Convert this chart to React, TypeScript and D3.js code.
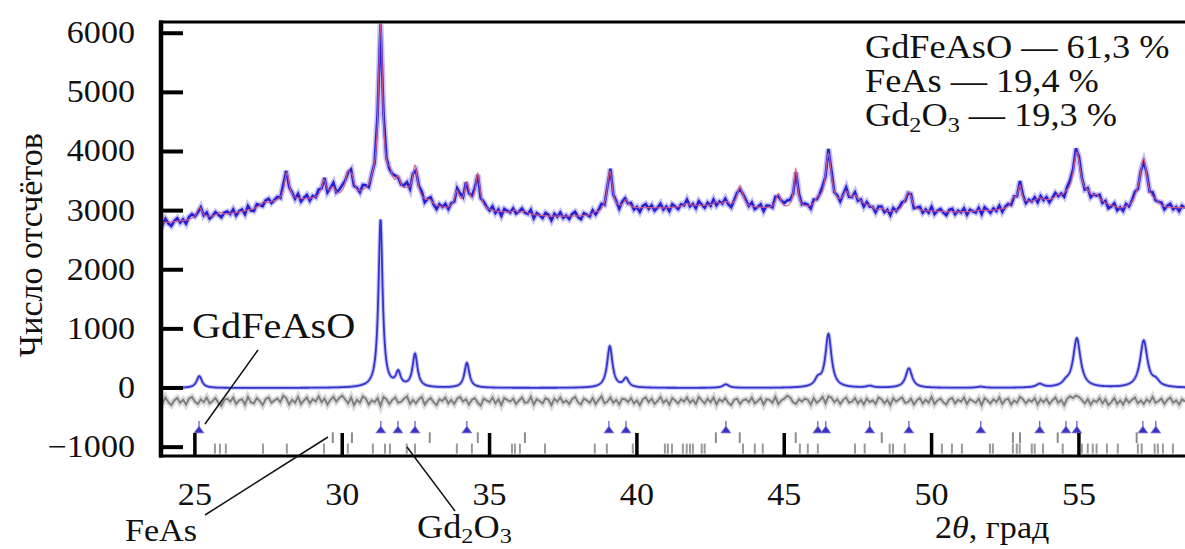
import React from 'react';
import * as d3 from 'd3';

const W = 1185;
const H = 549;

// Visible ranges
const twoThetaDomain = [23.85, 58.6];
const countDomain = [-1150, 6190];
const yTickValues = [-1000, 0, 1000, 2000, 3000, 4000, 5000, 6000];
const xTickValues = [25, 30, 35, 40, 45, 50, 55];

// Background knots (2θ, counts)
const bgTheta = [23.85, 25, 26, 27, 27.6, 28.5, 29.5, 30.5, 31.3, 31.8, 32.3, 33, 33.5, 34.5, 35.5, 37, 38.5, 39.5, 40.3, 41, 42, 43, 44, 45, 46, 47, 47.6, 48.2, 49, 50, 51, 52, 52.6, 53.3, 54.2, 55.3, 55.8, 56.4, 57, 57.8, 58.6];
const bgCounts = [2790, 2840, 2920, 3020, 3130, 3170, 3190, 3220, 3340, 3260, 3200, 3080, 3010, 3000, 2960, 2900, 2900, 3000, 3040, 3040, 3080, 3070, 3040, 3000, 3010, 3060, 3100, 2960, 2960, 2980, 2970, 2990, 3020, 3120, 3150, 3130, 3100, 3000, 3020, 3010, 3040];

// GdFeAsO reflections: position (2θ), intensity, FWHM
const gdfeasoPos = [25.15, 31.3, 31.9, 32.47, 34.23, 39.08, 39.63, 43.02, 46.14, 46.5, 47.9, 49.23, 51.67, 53.67, 54.56, 54.93, 57.2, 57.61];
const gdfeasoInt = [200, 2840, 230, 560, 420, 700, 150, 60, 120, 900, 30, 330, 20, 60, 60, 830, 790, 90];
const gdfeasoFwhm = [0.22, 0.17, 0.2, 0.2, 0.2, 0.22, 0.22, 0.25, 0.25, 0.25, 0.25, 0.26, 0.28, 0.28, 0.28, 0.3, 0.3, 0.3];

// FeAs contribution to the calculated profile
const feasPos = [29.68, 30.33, 32.97, 34.6, 36.2, 42.68, 43.49, 45.39, 48.31, 52.76, 53.0, 54.28, 56.96];
const feasInt = [150, 250, 60, 600, 50, 60, 320, 680, 60, 120, 300, 60, 80];
const feasFwhm = [0.2, 0.2, 0.2, 0.18, 0.2, 0.2, 0.2, 0.15, 0.2, 0.18, 0.15, 0.2, 0.2];

// Gd2O3 contribution to the calculated profile
const gd2o3Pos = [25.85, 27.31, 28.12, 29.38, 30.19, 31.04, 31.62, 32.19, 33.89, 35.86, 38.57, 41.69, 43.6, 44.8, 47.1, 47.4, 49.09, 52.89, 55.3, 55.6, 57.13];
const gd2o3Int = [60, 60, 480, 300, 350, 80, 220, 60, 280, 50, 40, 50, 60, 260, 200, 120, 60, 60, 80, 100, 60];
const gd2o3Fwhm = [0.2, 0.2, 0.2, 0.2, 0.2, 0.2, 0.2, 0.2, 0.2, 0.2, 0.2, 0.2, 0.2, 0.2, 0.25, 0.25, 0.2, 0.2, 0.25, 0.25, 0.2];

// Reflection markers
const gdfeasoTicks = [25.14, 31.31, 31.89, 32.47, 34.23, 39.05, 39.63, 43.02, 46.14, 46.41, 47.9, 49.23, 51.67, 53.67, 54.56, 54.93, 57.17, 57.61];
const feasTicks = [29.68, 30.33, 32.97, 34.6, 36.2, 42.68, 43.49, 45.39, 48.31, 52.76, 53.0, 54.28, 56.96];
const gd2o3Ticks = [25.68, 25.85, 26.05, 27.31, 28.12, 29.38, 30.19, 31.04, 31.45, 31.62, 32.19, 32.47, 33.89, 34.4, 35.76, 35.86, 36.03, 36.88, 38.57, 38.98, 39.86, 40.95, 41.05, 41.19, 41.56, 41.69, 41.8, 41.9, 42.2, 42.3, 43.6, 44.0, 44.27, 45.53, 45.8, 46.14, 47.4, 47.73, 48.58, 48.69, 49.09, 50.35, 50.69, 51.03, 51.98, 52.08, 52.76, 52.89, 52.99, 53.4, 53.5, 53.78, 54.45, 55.1, 55.3, 55.47, 55.6, 55.95, 56.32, 57.0, 57.13, 57.57, 57.68, 57.85, 58.19];

// Observed minus calculated, 0.1° steps from 23.8°, in units of 10 counts
const residualStart = 23.8;
const residualStep = 0.1;
const residual = [
  3, -4, 6, -2, -7, 1, 5, -3, 2, -6, 4, 7, -1, -5, 3, -2, 6, -4, 0, 5,
  -3, -8, 2, 4, -1, 6, -5, 1, 3, -6, 7, -2, -4, 5, 0, -7, 3, 6, -3, 1,
  4, -2, 9, 5, -6, 2, -3, 7, -5, 1, 6, -4, 3, -1, 8, -2, 4, -6, 2, 7,
  -1, 5, 9, 3, -4, 6, -7, 2, -3, 8, 4, -6, 1, -2, 5, -8, 7, 3, -5, 2,
  6, -3, -1, 4, 8, -5, 2, -4, 3, 7, -6, 1, 5, -2, -7, 3, 0, 6, -4, 2,
  -5, 4, 7, -1, 3, -6, 2, 5, -3, -8, 4, 1, -2, 6, -4, 3, -7, 5, 2, -1,
  4, -5, 1, 6, -3, -2, 7, -6, 3, 0, -4, 5, 2, -7, 4, -1, 6, -3, 1, -5,
  3, 7, -2, -6, 4, 1, -3, 5, -5, 2, 8, -4, -1, 6, -3, 2, -6, 4, 3, -2,
  5, -4, 1, -7, 3, 6, -2, 4, -5, 0, 7, -3, 2, -6, 5, 1, -4, 3, -1, 6,
  -3, 2, -5, 7, 1, -4, 4, -2, 6, -6, 3, -1, 5, -3, -7, 2, 4, -5, 1, 3,
  -2, 6, -4, 0, 5, -6, 3, 2, -3, 7, -5, 1, 4, 9, 6, -2, -5, 3, -1, 4,
  2, -6, 5, -3, 1, 7, -4, 8, 6, -2, 3, -5, 2, 6, -3, -1, 5, -4, 2, -6,
  4, -2, 1, -5, 6, 3, -4, 2, -7, 5, -1, 3, 6, -3, -2, 4, -6, 1, 5, -4,
  2, -3, 7, -5, 1, 4, -2, -6, 3, 5, -4, 2, -1, 6, -5, 3, 0, -3, 4, -7,
  5, 1, -4, 3, -2, 6, -5, 2, 4, -6, 1, -3, 7, 3, -4, 2, -1, 5, -6, 3,
  -2, 4, -5, 1, 6, -3, 2, -7, 4, 8, 5, 9, 7, 2, -4, 3, -6, 1, -2, 5,
  -4, 3, -7, -2, 5, -5, 1, -6, 4, -3, 2, 6, -4, 1, -5, 3, -2, 7, -3, 0,
  4, -5, 2, 6, -3, 1, -6, 3, -1,
];
const diffOffset = -220;

const legendLines = ['GdFeAsO — 61,3 %', 'FeAs — 19,4 %'];

const SERIF = '"Liberation Serif", "DejaVu Serif", serif';

type Peak = { p: number; h: number; w: number };

function peaksOf(pos: number[], int: number[], fwhm: number[]): Peak[] {
  return pos.map((p, i) => ({ p, h: int[i], w: fwhm[i] }));
}

function profile(peaks: Peak[], t: number): number {
  let s = 0;
  for (const k of peaks) {
    const u = (t - k.p) / (k.w / 2);
    s += k.h / (1 + u * u);
  }
  return s;
}

function SText(props: {
  x: number;
  y: number;
  size: number;
  sx?: number;
  anchor?: 'start' | 'middle' | 'end';
  children: React.ReactNode;
  fill?: string;
}) {
  const { x, y, size, sx = 1.1, anchor = 'start', children, fill = '#111' } = props;
  return (
    <g transform={`translate(${x},${y}) scale(${sx},1)`}>
      <text fontFamily={SERIF} fontSize={size} textAnchor={anchor} fill={fill}>
        {children}
      </text>
    </g>
  );
}

export default function App() {
  const plotLeft = 161;
  const plotRight = 1185;
  const plotTop = 22;
  const plotBottom = 456;

  const x = d3.scaleLinear().domain(twoThetaDomain).range([plotLeft, plotRight]);
  const y = d3.scaleLinear().domain(countDomain).range([plotBottom, plotTop]);

  const bg = d3.scaleLinear().domain(bgTheta).range(bgCounts).clamp(true);
  const gdfeaso = peaksOf(gdfeasoPos, gdfeasoInt, gdfeasoFwhm);
  const feas = peaksOf(feasPos, feasInt, feasFwhm);
  const gd2o3 = peaksOf(gd2o3Pos, gd2o3Int, gd2o3Fwhm);

  const calcAt = (t: number) => bg(t) + profile(gdfeaso, t) + profile(feas, t) + profile(gd2o3, t);

  const fine = d3.range(23.8, 58.65, 0.01);
  const calcPts: [number, number][] = fine.map((t) => [t, calcAt(t)]);
  const phasePts: [number, number][] = fine.map((t) => [t, profile(gdfeaso, t)]);

  const obsPts: [number, number][] = residual.map((r, i) => {
    const t = residualStart + i * residualStep;
    return [t, calcAt(t) + r * 10];
  });
  const diffPts: [number, number][] = residual.map((r, i) => {
    const t = residualStart + i * residualStep;
    return [t, r * 10 + diffOffset];
  });

  const line = d3
    .line<[number, number]>()
    .x((d) => x(d[0]))
    .y((d) => y(d[1]));

  const triBase = y(-760);
  const feasTop = y(-750);
  const feasBot = y(-930);
  const gdoTop = y(-940);
  const gdoBot = y(-1110);

  return (
    <svg
      width={W}
      height={H}
      viewBox={`0 0 ${W} ${H}`}
      style={{ position: 'absolute', left: 0, top: 0, background: '#fff' }}
    >
      <defs>
        <clipPath id="plot-clip">
          <rect x={plotLeft} y={plotTop} width={plotRight - plotLeft} height={plotBottom - plotTop} />
        </clipPath>
      </defs>

      <g clipPath="url(#plot-clip)">
        {/* difference curve */}
        <path d={line(diffPts) || ''} fill="none" stroke="#bdbdbd" strokeWidth={6} strokeOpacity={0.55} />
        <path d={line(diffPts) || ''} fill="none" stroke="#7f7f7f" strokeWidth={2} />

        {/* GdFeAsO phase profile */}
        <path d={line(phasePts) || ''} fill="none" stroke="#a9a9f0" strokeWidth={4} strokeOpacity={0.7} />
        <path d={line(phasePts) || ''} fill="none" stroke="#3434cc" strokeWidth={1.8} />

        {/* observed */}
        <path d={line(obsPts) || ''} fill="none" stroke="#6a66f0" strokeWidth={6} strokeOpacity={0.4} />
        <path d={line(obsPts) || ''} fill="none" stroke="#2a1fd0" strokeWidth={2.6} />

        {/* calculated */}
        <path d={line(calcPts) || ''} fill="none" stroke="#d85c80" strokeWidth={1.2} strokeOpacity={0.9} />

        {/* reflection markers */}
        {gdfeasoTicks.map((t, i) => {
          const cx = x(t);
          return (
            <g key={`g${i}`}>
              <line x1={cx} x2={cx} y1={triBase - 12} y2={triBase} stroke="#5a50d0" strokeWidth={1.2} />
              <path
                d={`M${cx - 5},${triBase} L${cx},${triBase - 7} L${cx + 5},${triBase} Z`}
                fill="#3c32c0"
                stroke="#8a84e0"
                strokeWidth={0.8}
              />
            </g>
          );
        })}
        {feasTicks.map((t, i) => (
          <line key={`f${i}`} x1={x(t)} x2={x(t)} y1={feasTop} y2={feasBot} stroke="#8c8c8c" strokeWidth={2} />
        ))}
        {gd2o3Ticks.map((t, i) => (
          <line key={`o${i}`} x1={x(t)} x2={x(t)} y1={gdoTop} y2={gdoBot} stroke="#9a9a9a" strokeWidth={2} />
        ))}
      </g>

      {/* frame */}
      <line x1={plotLeft - 2} x2={plotRight} y1={plotTop} y2={plotTop} stroke="#000" strokeWidth={3} />
      <line x1={plotLeft} x2={plotLeft} y1={plotTop - 1.5} y2={plotBottom + 1.5} stroke="#000" strokeWidth={4.5} />
      <line x1={plotLeft - 2} x2={plotRight} y1={plotBottom} y2={plotBottom} stroke="#000" strokeWidth={3} />

      {/* y ticks */}
      {yTickValues.map((v) => (
        <g key={`yt${v}`}>
          <line x1={plotLeft} x2={plotLeft + 22} y1={y(v)} y2={y(v)} stroke="#000" strokeWidth={4} />
          <SText x={135} y={y(v) + 10} size={31} anchor="end">
            {v < 0 ? `−${Math.abs(v)}` : `${v}`}
          </SText>
        </g>
      ))}

      {/* x ticks */}
      {xTickValues.map((v) => (
        <g key={`xt${v}`}>
          <line x1={x(v)} x2={x(v)} y1={plotBottom} y2={plotBottom - 23} stroke="#000" strokeWidth={3.5} />
          <SText x={x(v)} y={505} size={31} anchor="middle">
            {v}
          </SText>
        </g>
      ))}

      {/* axis titles */}
      <g transform="translate(42,245) rotate(-90)">
        <text fontFamily={SERIF} fontSize={34} textAnchor="middle" fill="#111">
          Число отсчётов
        </text>
      </g>
      <SText x={935} y={538} size={31}>
        2<tspan fontStyle="italic">θ</tspan>, град
      </SText>

      {/* phase fractions */}
      {legendLines.map((s, i) => (
        <SText key={s} x={865} y={58 + i * 34} size={33}>
          {s}
        </SText>
      ))}
      <SText x={865} y={126} size={33}>
        Gd<tspan fontSize={22} dy={6}>2</tspan>
        <tspan dy={-6}>O</tspan>
        <tspan fontSize={22} dy={6}>3</tspan>
        <tspan dy={-6}> — 19,3 %</tspan>
      </SText>

      {/* phase labels with leaders */}
      <SText x={192} y={338} size={35} sx={1.15}>
        GdFeAsO
      </SText>
      <line x1={258} y1={350} x2={205} y2={424} stroke="#111" strokeWidth={1.5} />

      <SText x={125} y={541} size={31}>
        FeAs
      </SText>
      <line x1={205} y1={515} x2={328} y2={437} stroke="#111" strokeWidth={1.5} />

      <SText x={417} y={538} size={33}>
        Gd<tspan fontSize={22} dy={5}>2</tspan>
        <tspan dy={-5}>O</tspan>
        <tspan fontSize={22} dy={5}>3</tspan>
      </SText>
      <line x1={407} y1={447} x2={455} y2={511} stroke="#111" strokeWidth={1.5} />
    </svg>
  );
}
